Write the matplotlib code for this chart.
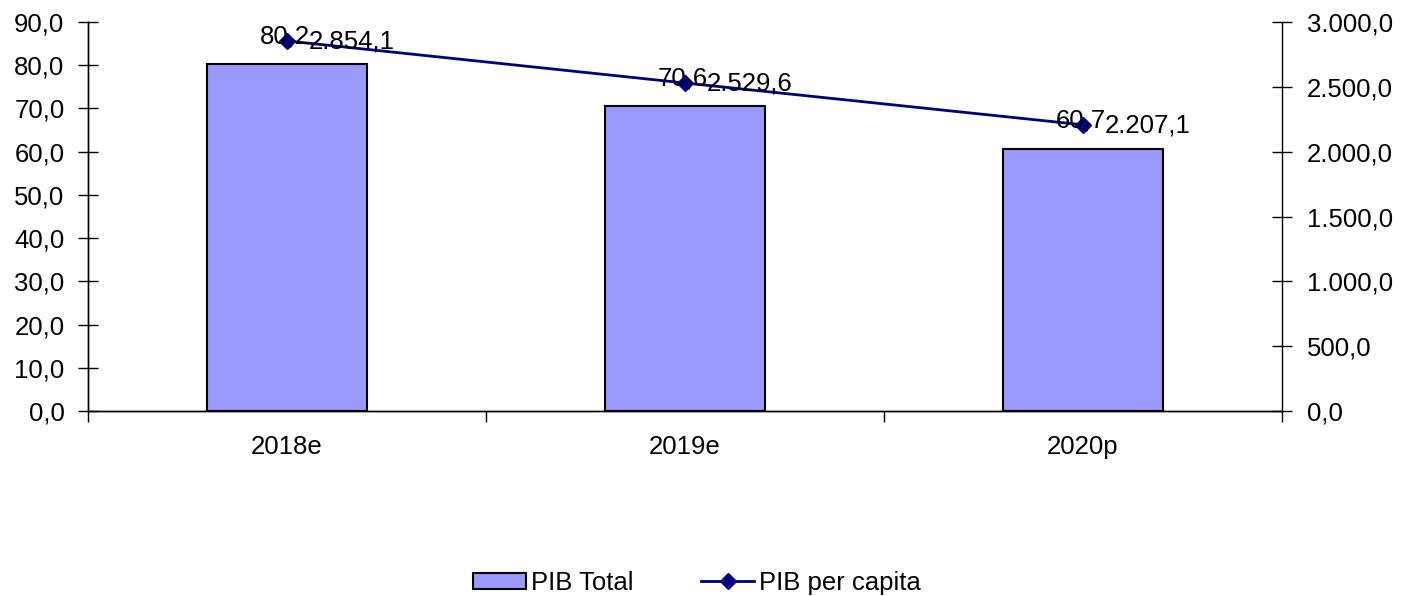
import matplotlib.pyplot as plt
from matplotlib.lines import Line2D
from matplotlib.patches import Patch

plt.rcParams['font.family'] = ['Liberation Sans', 'DejaVu Sans']

categories = ["2018e", "2019e", "2020p"]
pib_total = [80.2, 70.6, 60.7]
pib_per_capita = [2854.1, 2529.6, 2207.1]
total_labels = ["80,2", "70,6", "60,7"]
capita_labels = ["2.854,1", "2.529,6", "2.207,1"]
left_ticks = [0, 10, 20, 30, 40, 50, 60, 70, 80, 90]
right_ticks = [0, 500, 1000, 1500, 2000, 2500, 3000]

FS = 18.5


def fmt_comma(v):
    # 1000.0 -> "1.000,0"
    s = "{:,.1f}".format(v)
    return s.replace(",", "X").replace(".", ",").replace("X", ".")


fig = plt.figure(figsize=(14.08, 5.96), dpi=100)
ax = fig.add_axes([88 / 1408, 1 - 411 / 596, (1282 - 88) / 1408, (411 - 22) / 596])
ax2 = ax.twinx()

x = list(range(len(categories)))
ax.bar(x, pib_total, width=0.4, color="#9999FF", edgecolor="black", linewidth=1.5, zorder=2)
ax2.plot(x, pib_per_capita, color="#000080", linewidth=2, marker="D", markersize=8, zorder=3)

ax.set_xlim(-0.5, 2.5)
ax.set_ylim(0, 90)
ax2.set_ylim(0, 3000)

ax.set_yticks(left_ticks)
ax.set_yticklabels([fmt_comma(v) for v in left_ticks], fontsize=FS)
ax2.set_yticks(right_ticks)
ax2.set_yticklabels([fmt_comma(v) for v in right_ticks], fontsize=FS)

ax.set_xticks(x)
ax.set_xticklabels(categories, fontsize=FS)
ax.tick_params(axis="x", which="major", length=0, pad=17)
ax.set_xticks([-0.5, 0.5, 1.5, 2.5], minor=True)
ax.tick_params(axis="x", which="minor", length=8, direction="out", width=1)
ax.tick_params(axis="y", direction="inout", length=14, width=1, pad=10)
ax2.tick_params(axis="y", direction="inout", length=14, width=1, pad=11)

for a in (ax, ax2):
    a.spines["top"].set_visible(False)
    for s in ("left", "right", "bottom"):
        a.spines[s].set_linewidth(1)
ax.spines["right"].set_visible(False)

for i in x:
    ax2.annotate(total_labels[i], (i, pib_per_capita[i]), xytext=(-2, 4),
                 textcoords="offset pixels", ha="center", va="center", fontsize=FS, zorder=4)
    ax2.annotate(capita_labels[i], (i, pib_per_capita[i]), xytext=(22, -1),
                 textcoords="offset pixels", ha="left", va="center", fontsize=FS, zorder=4)

handles = [Patch(facecolor="#9999FF", edgecolor="black", linewidth=1.5),
           Line2D([0], [0], color="#000080", linewidth=2, marker="D", markersize=8)]
fig.legend(handles, ["PIB Total", "PIB per capita"], loc="center",
           bbox_to_anchor=(0.5 - 7 / 1408, 1 - 583 / 596),
           ncol=2, frameon=False, fontsize=FS, handlelength=2.06, handleheight=0.6,
           handletextpad=0.2, columnspacing=2.65)

fig.savefig("out.png", dpi=100)
